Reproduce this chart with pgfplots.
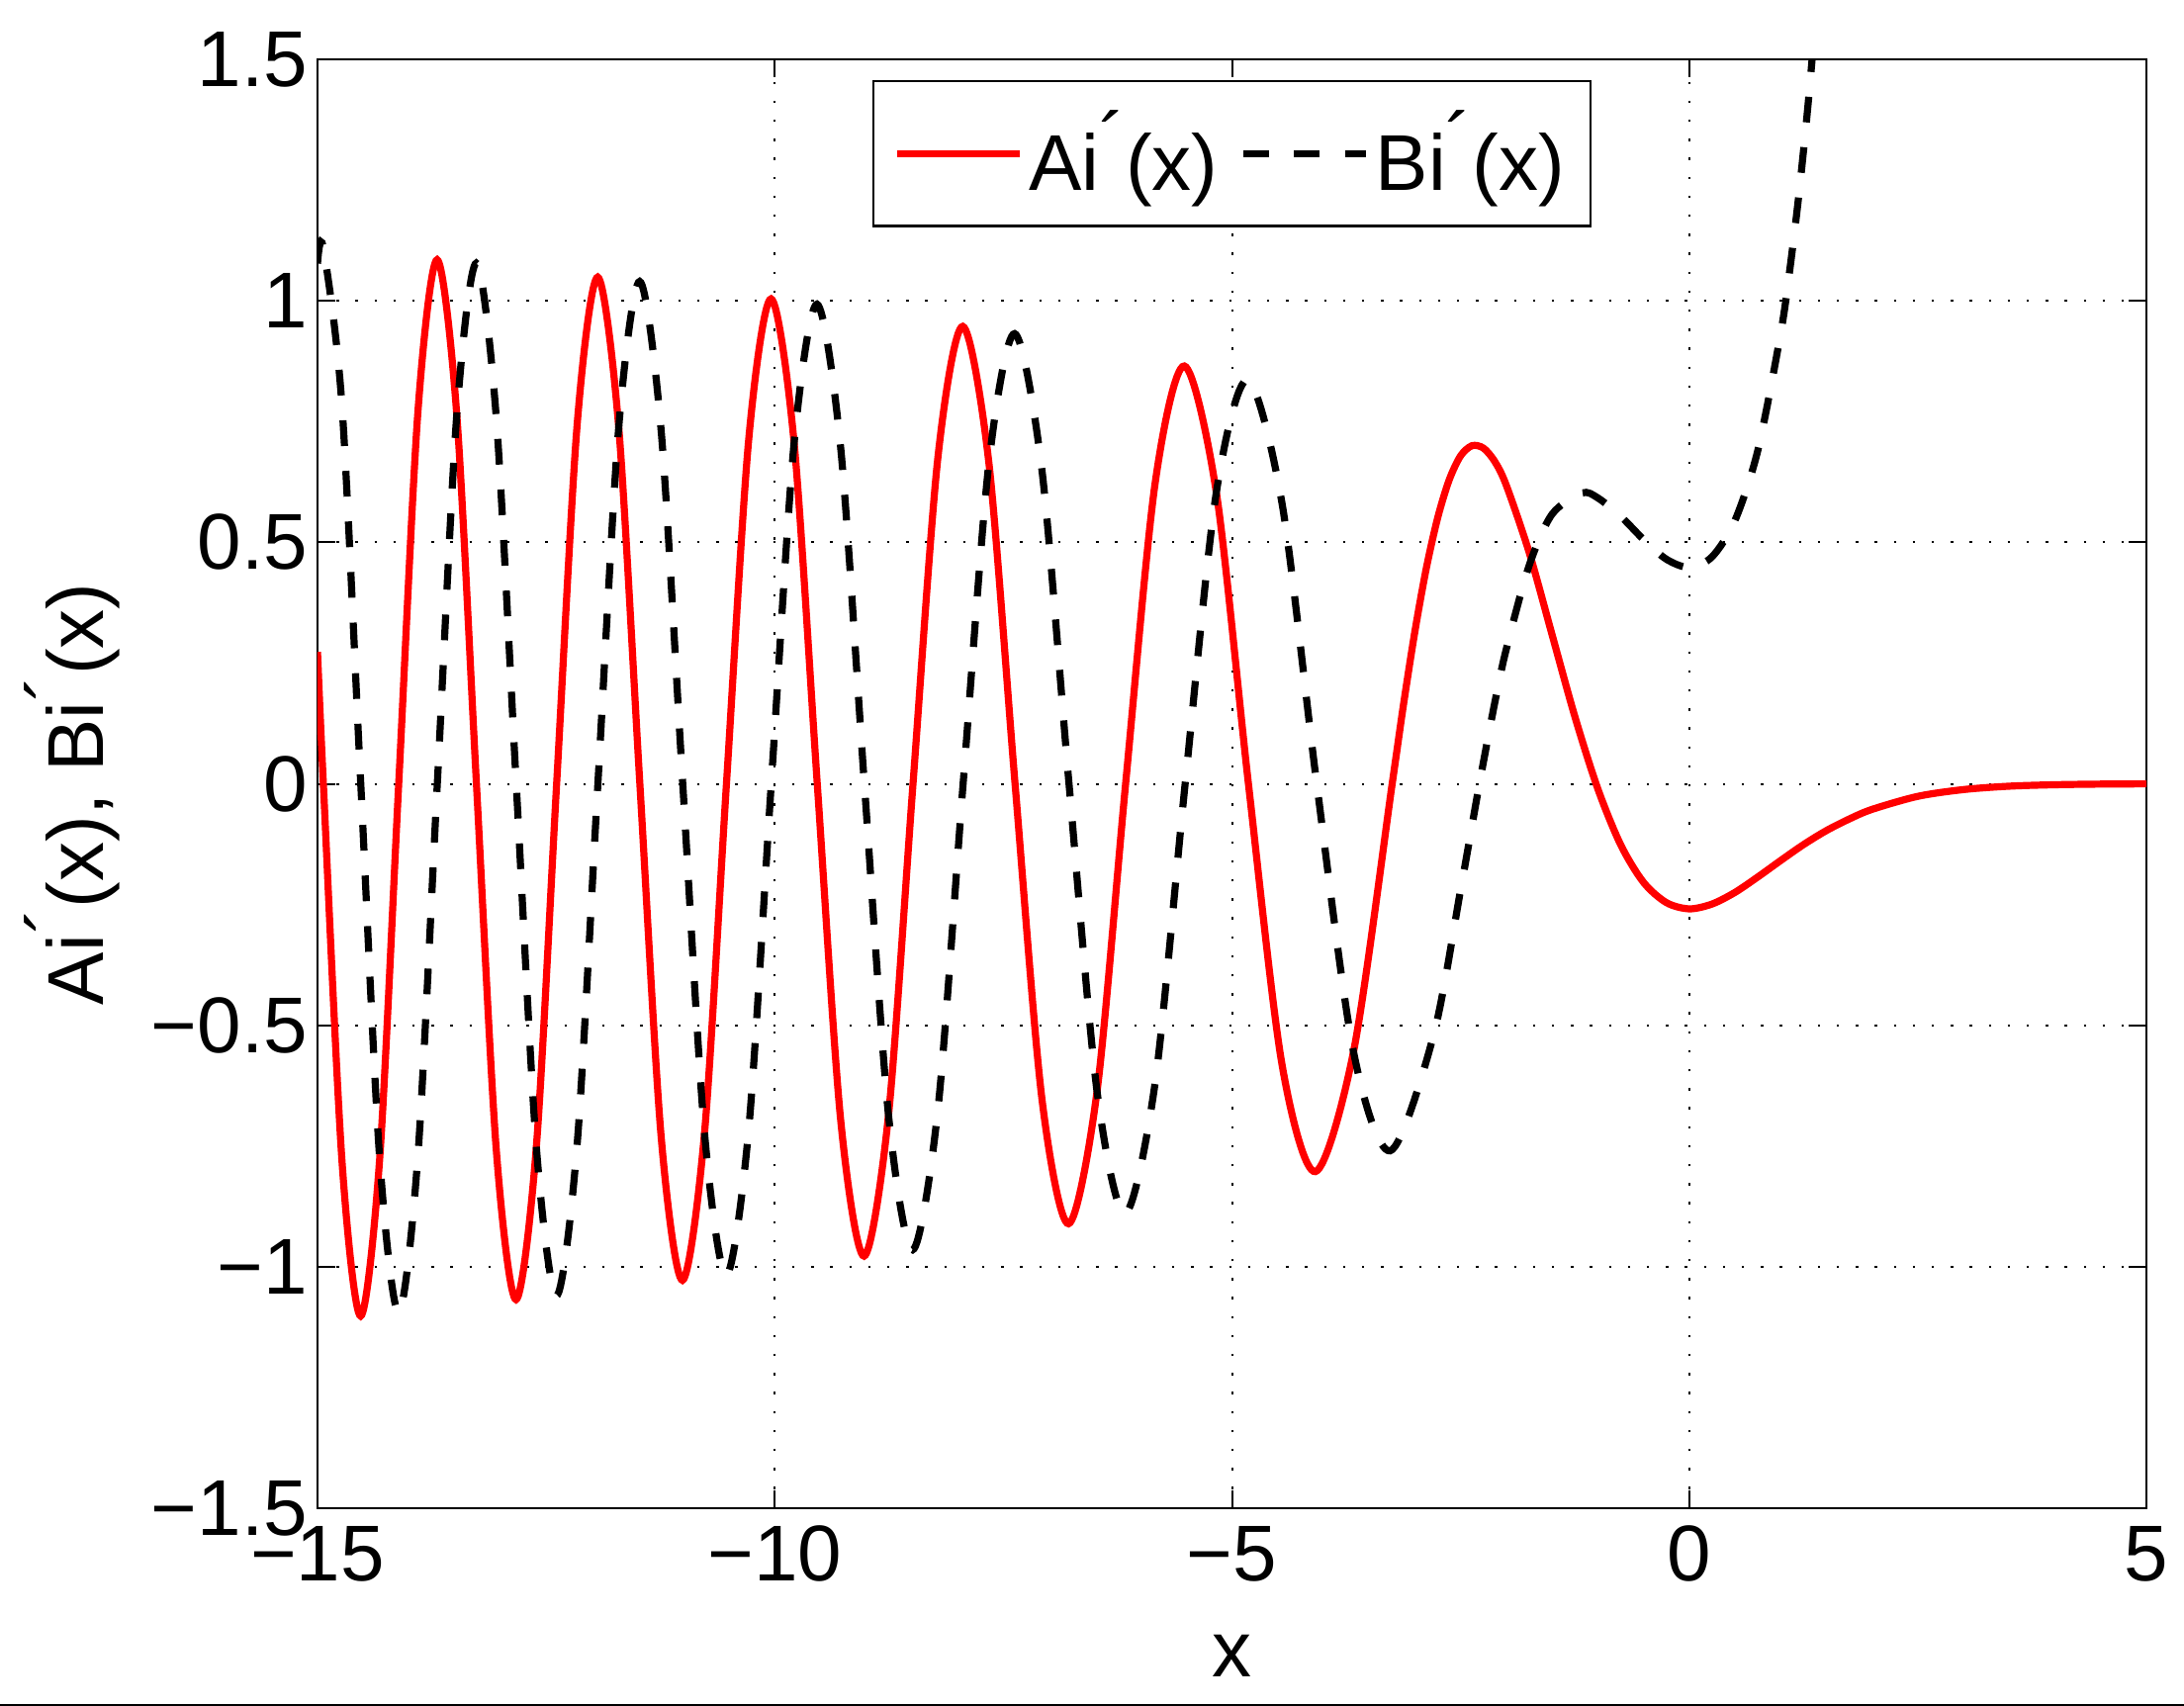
\documentclass[border=0pt]{standalone}
\usepackage{fontspec}
\setmainfont{Liberation Sans}
\usepackage{pgfplots}
\pgfplotsset{compat=1.18}
\newcommand{\fs}{\fontsize{20}{24}\selectfont}
\newcommand{\pr}{\raisebox{0.27em}{´}}
\begin{document}
\begin{tikzpicture}
\useasboundingbox (-80.25pt,-50pt) rectangle (471.75pt,381.25pt);
\begin{axis}[
  at={(0,0)}, anchor=south west,
  width=462.25pt, height=366.25pt, scale only axis,
  xmin=-15, xmax=5, ymin=-1.5, ymax=1.5,
  xtick={-15,-10,-5,0,5}, xticklabels={−15,−10,−5,0,5},
  ytick={-1.5,-1,-0.5,0,0.5,1,1.5}, yticklabels={−1.5,−1,−0.5,0,0.5,1,1.5},
  tick align=inside, major tick length=4.5pt,
  grid=major, grid style={black, line width=0.5pt, dash pattern=on 0.6pt off 4.2pt},
  axis line style={line width=0.6pt},
  tick style={line width=0.5pt, black},
  ticklabel style={font=\fs},
  xticklabel style={yshift=-1pt},
  yticklabel style={xshift=1pt},
  xlabel={x}, ylabel={Ai\pr(x), Bi\pr(x)},
  xlabel style={font=\fs, at={(axis description cs:0.5,-0.1167)}, anchor=base, inner sep=0pt},
  ylabel style={font=\fs, at={(axis description cs:-0.1076,0.493)}, anchor=south, inner sep=0pt},
  legend style={at={(0.5,0.9859)}, anchor=north, draw=black, line width=0.6pt, fill=white,
    font=\fs, inner xsep=5pt, inner ysep=1pt, nodes={inner xsep=1.5pt, inner ysep=6.5pt},
    /tikz/every even column/.append style={column sep=4pt}},
  legend columns=2, legend cell align=left,
  legend image code/.code={\draw[#1] (0pt,0pt) -- (31pt,0pt);},
]
\addplot[red, line width=1.8pt, smooth] coordinates {
(-15.000,0.273) (-14.936,0) (-14.732,-0.782) (-14.528,-1.102) (-14.320,-0.776)
(-14.112,0) (-13.902,0.770) (-13.692,1.085) (-13.477,0.764) (-13.262,0)
(-13.045,-0.758) (-12.829,-1.068) (-12.607,-0.752) (-12.385,0) (-12.160,0.745)
(-11.936,1.049) (-11.706,0.738) (-11.475,0) (-11.242,-0.731) (-11.009,-1.028)
(-10.768,-0.723) (-10.528,0) (-10.284,0.714) (-10.040,1.004) (-9.788,0.706)
(-9.535,0) (-9.279,-0.696) (-9.023,-0.978) (-8.756,-0.686) (-8.488,0)
(-8.216,0.675) (-7.944,0.947) (-7.658,0.664) (-7.372,0) (-7.079,-0.651)
(-6.787,-0.911) (-6.475,-0.636) (-6.163,0) (-5.842,0.620) (-5.521,0.865)
(-5.170,0.602) (-4.820,0) (-4.454,-0.580) (-4.088,-0.803) (-3.668,-0.552)
(-3.248,0) (-3.125,0.163) (-3.000,0.315) (-2.875,0.446) (-2.750,0.551)
(-2.625,0.629) (-2.500,0.679) (-2.375,0.700) (-2.250,0.695) (-2.125,0.667)
(-2.000,0.618)
(-1.750,0.479) (-1.500,0.309) (-1.250,0.139) (-1.000,-0.010) (-0.750,-0.126)
(-0.500,-0.204) (-0.250,-0.246) (0.000,-0.259) (0.250,-0.249) (0.500,-0.225)
(0.750,-0.193) (1.000,-0.159) (1.250,-0.126) (1.500,-0.097) (1.750,-0.073)
(2.000,-0.053) (2.500,-0.026) (3.000,-0.012) (3.500,-0.005) (4.000,-0.002)
(4.500,-0.0007) (5.000,-0.0002)
};
\addlegendentry{Ai\pr(x)}
\addplot[black, line width=1.8pt, dash pattern=on 6.5pt off 6.3pt, smooth] coordinates {
(-15.000,1.077) (-14.937,1.110) (-14.732,0.782) (-14.527,0) (-14.320,-0.776)
(-14.113,-1.095) (-13.902,-0.770) (-13.690,0) (-13.477,0.764) (-13.264,1.078)
(-13.045,0.758) (-12.827,0) (-12.607,-0.752) (-12.386,-1.060) (-12.160,-0.745)
(-11.934,0) (-11.706,0.738) (-11.477,1.040) (-11.242,0.731) (-11.006,0)
(-10.768,-0.723) (-10.530,-1.018) (-10.284,-0.714) (-10.038,0) (-9.788,0.706)
(-9.538,0.993) (-9.279,0.696) (-9.020,0) (-8.756,-0.686) (-8.492,-0.965)
(-8.216,-0.675) (-7.940,0) (-7.658,0.664) (-7.377,0.932) (-7.079,0.651)
(-6.782,0) (-6.476,-0.636) (-6.170,-0.890) (-5.841,-0.620) (-5.512,0)
(-5.172,0.602) (-4.831,0.836) (-4.452,0.580) (-4.073,0) (-3.672,-0.554)
(-3.271,-0.760) (-2.800,-0.524) (-2.500,-0.220) (-2.294,0) (-2.125,0.169)
(-2.000,0.279)
(-1.750,0.452) (-1.500,0.558) (-1.174,0.602) (-1.000,0.592) (-0.750,0.554)
(-0.500,0.506) (-0.250,0.465) (0.000,0.448) (0.250,0.470) (0.500,0.545)
(0.750,0.690) (1.000,0.932) (1.100,1.064) (1.200,1.221) (1.300,1.407)
(1.400,1.627) (1.500,1.886)
};
\addlegendentry{Bi\pr(x)}
\end{axis}
\draw[line width=0.5pt] (-80.25pt,-49.75pt) -- (471.75pt,-49.75pt);
\end{tikzpicture}
\end{document}
